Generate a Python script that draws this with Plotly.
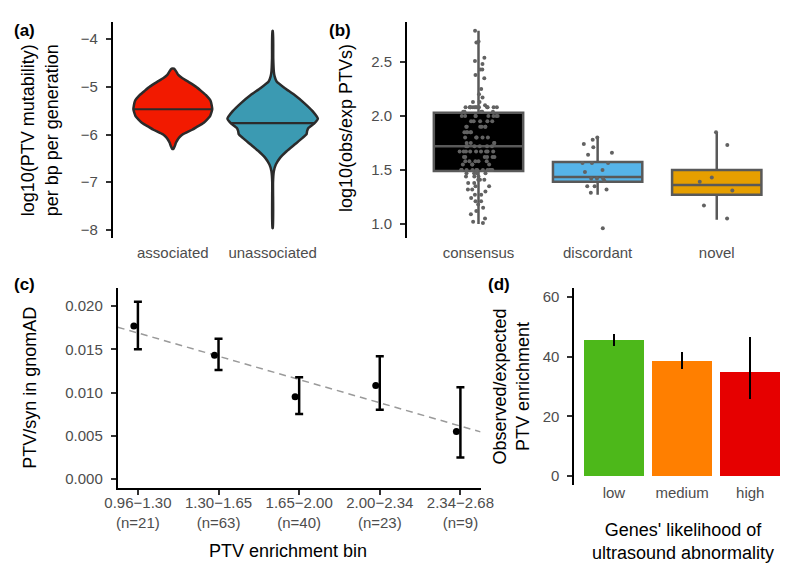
import numpy as np
import plotly.graph_objects as go

# ---------------- data ----------------
# (a) violin outlines: levels and half-widths (in category units)
violin_groups = ["associated", "unassociated"]
assoc_levels = [-6.30, -6.24, -6.18, -6.12, -6.06, -6.00, -5.90, -5.83, -5.76, -5.62,
                -5.47, -5.30, -5.17, -5.08, -4.99, -4.90, -4.82, -4.75, -4.68, -4.62]
assoc_halfwidth = [0.006, 0.02, 0.03, 0.045, 0.065, 0.097, 0.194, 0.25, 0.307, 0.372,
                   0.395, 0.38, 0.33, 0.28, 0.227, 0.16, 0.097, 0.055, 0.035, 0.012]
assoc_median = -5.47
unassoc_levels = [-7.96, -7.00, -6.77, -6.63, -6.49, -6.35, -6.21, -6.07, -5.99, -5.93,
                  -5.86, -5.76, -5.67, -5.51, -5.34, -5.17, -5.03, -4.89, -4.78, -4.68,
                  -4.40, -3.83]
unassoc_halfwidth = [0.003, 0.004, 0.012, 0.032, 0.074, 0.14, 0.22, 0.30, 0.34, 0.345,
                     0.36, 0.42, 0.453, 0.40, 0.317, 0.22, 0.123, 0.04, 0.02, 0.012,
                     0.006, 0.003]
unassoc_median = -5.76

# (b) boxes
box_groups = ["consensus", "discordant", "novel"]
box_q1 = [1.49, 1.39, 1.27]
box_median = [1.72, 1.435, 1.36]
box_q3 = [2.03, 1.574, 1.50]
box_lower = [1.00, 1.27, 1.04]
box_upper = [2.79, 1.80, 1.85]
consensus_pts = (
    [2.79, 2.69, 2.68, 2.54, 2.51, 2.48, 2.43, 2.43, 2.38, 2.35, 2.25, 2.20, 2.17, 2.13, 2.13, 2.10]
    + [2.08] * 13 + [2.04] * 5
    + [2.00] * 8 + [1.95] * 5 + [1.90] * 6 + [1.85] * 5 + [1.80] * 5 + [1.75] * 4
    + [1.72] * 6 + [1.67] * 9 + [1.62] * 6 + [1.58] * 5 + [1.55] * 4 + [1.50] * 13
    + [1.47] * 4
    + [1.44] * 3 + [1.41] * 3 + [1.38] * 2 + [1.35] * 2 + [1.32] * 2 + [1.30, 1.27, 1.27,
       1.24, 1.21, 1.21, 1.18, 1.15, 1.12, 1.09, 1.05, 1.02, 1.01]
)
discordant_pts = [1.80, 1.78, 1.74, 1.71, 1.66, 1.64, 1.565, 1.565, 1.565, 1.50, 1.48,
                  1.42, 1.42, 1.42, 1.40, 1.35, 1.35, 1.32, 1.29, 0.96]
novel_pts = [1.85, 1.73, 1.43, 1.39, 1.31, 1.17, 1.05]

# (c) PTV/syn by enrichment bin
bin_labels = ["0.96\u22121.30<br>(n=21)", "1.30\u22121.65<br>(n=63)", "1.65\u22122.00<br>(n=40)",
              "2.00\u22122.34<br>(n=23)", "2.34\u22122.68<br>(n=9)"]
ratio = [0.0177, 0.0143, 0.0095, 0.0108, 0.0055]
ratio_low = [0.0150, 0.0126, 0.0075, 0.0080, 0.0025]
ratio_high = [0.0205, 0.0162, 0.01175, 0.0142, 0.0106]
fit_intercept = 0.01688
fit_slope = -0.00269

# (d) enrichment by ultrasound likelihood
us_groups = ["low", "medium", "high"]
enrich = [45.5, 38.4, 34.9]
enrich_low = [43.6, 35.8, 25.9]
enrich_high = [47.6, 41.4, 46.5]

# ---------------- styles ----------------
W, H = 800, 566
FONT = "Liberation Sans, Arial, sans-serif"
TICKFONT = dict(family=FONT, size=15, color="#4D4D4D")
TITLEFONT = dict(family=FONT, size=18, color="black")
violin_colors = ["#F21A00", "#3B9AB2"]
box_fills = ["#000000", "#56B4E9", "#E69F00"]
bar_colors = ["#4DB81A", "#FF7F00", "#E60000"]
OUTLINE = "#2B2B2B"


def px_x(p):
    return p / W


def px_y(p):
    return 1 - p / H


fig = go.Figure()

# ---- (a) violins ----
for i, (lv, hw, med) in enumerate([(assoc_levels, assoc_halfwidth, assoc_median),
                                    (unassoc_levels, unassoc_halfwidth, unassoc_median)]):
    lv = np.array(lv)
    hw = np.array(hw)
    xs = np.concatenate([i + hw, (i - hw)[::-1], [i + hw[0]]])
    ys = np.concatenate([lv, lv[::-1], [lv[0]]])
    fig.add_trace(go.Scatter(x=xs, y=ys, mode="lines", fill="toself",
                             fillcolor=violin_colors[i],
                             line=dict(color=OUTLINE, width=2.5, shape="spline", smoothing=0.4),
                             xaxis="x", yaxis="y", showlegend=False, hoverinfo="skip"))
    mw = float(np.interp(med, lv, hw))
    fig.add_trace(go.Scatter(x=[i - mw, i + mw], y=[med, med], mode="lines",
                             line=dict(color=OUTLINE, width=2.2),
                             xaxis="x", yaxis="y", showlegend=False, hoverinfo="skip"))

# ---- (b) boxes ----
for i in range(3):
    fig.add_trace(go.Box(x=[i], q1=[box_q1[i]], median=[box_median[i]], q3=[box_q3[i]],
                         lowerfence=[box_lower[i]], upperfence=[box_upper[i]],
                         width=0.75, whiskerwidth=0, fillcolor=box_fills[i],
                         line=dict(color="#595959", width=2.5), boxpoints=False,
                         xaxis="x2", yaxis="y2", showlegend=False, hoverinfo="skip"))
for i, pts in enumerate([consensus_pts, discordant_pts, novel_pts]):
    fig.add_trace(go.Box(y=pts, x=[i] * len(pts), width=0.75, boxpoints="all", jitter=0.45,
                         pointpos=0, fillcolor="rgba(0,0,0,0)",
                         line=dict(color="rgba(0,0,0,0)", width=0),
                         marker=dict(color="#626262", size=4),
                         xaxis="x2", yaxis="y2", showlegend=False, hoverinfo="skip"))

# ---- (c) ----
xr = [-0.25, 4.25]
fig.add_trace(go.Scatter(x=xr, y=[fit_intercept + fit_slope * v for v in xr], mode="lines",
                         line=dict(color="#9A9A9A", width=1.5, dash="7px,5px"),
                         xaxis="x3", yaxis="y3", showlegend=False, hoverinfo="skip"))
idx = list(range(len(ratio)))
fig.add_trace(go.Scatter(x=idx, y=ratio, mode="markers", marker=dict(size=1, opacity=0),
                         error_y=dict(type="data", symmetric=False,
                                      array=[h - r for h, r in zip(ratio_high, ratio)],
                                      arrayminus=[r - l for r, l in zip(ratio, ratio_low)],
                                      color="black", thickness=2.5, width=4),
                         xaxis="x3", yaxis="y3", showlegend=False, hoverinfo="skip"))
fig.add_trace(go.Scatter(x=[v - 0.05 for v in idx], y=ratio, mode="markers",
                         marker=dict(color="black", size=7),
                         xaxis="x3", yaxis="y3", showlegend=False, hoverinfo="skip"))

# ---- (d) ----
fig.add_trace(go.Bar(x=[0, 1, 2], y=enrich, width=0.88, marker=dict(color=bar_colors, line=dict(width=0)),
                     error_y=dict(type="data", symmetric=False,
                                  array=[h - e for h, e in zip(enrich_high, enrich)],
                                  arrayminus=[e - l for e, l in zip(enrich, enrich_low)],
                                  color="black", thickness=2.5, width=0),
                     xaxis="x4", yaxis="y4", showlegend=False, hoverinfo="skip"))

yaxis_common = dict(showgrid=False, zeroline=False, showline=True, linecolor="black", linewidth=2,
                    ticks="outside", ticklen=5, tickwidth=1.5, tickcolor="#333333",
                    tickfont=TICKFONT, ticklabelstandoff=5)
xaxis_cat = dict(showgrid=False, zeroline=False, showline=False, ticks="", tickfont=TICKFONT)

fig.update_layout(
    width=W, height=H, margin=dict(l=0, r=0, t=0, b=0),
    paper_bgcolor="white", plot_bgcolor="white", boxmode="overlay", bargap=0,
    showlegend=False,
    xaxis=dict(domain=[px_x(95), px_x(322)], range=[-0.6, 1.6], anchor="y",
               tickvals=[0, 1], ticktext=violin_groups, ticklabelstandoff=4, **xaxis_cat),
    yaxis=dict(domain=[px_y(230), px_y(14)], range=[-8.17, -3.64], anchor="x",
               tickvals=[-8, -7, -6, -5, -4], **yaxis_common),
    xaxis2=dict(domain=[px_x(399), px_x(793)], range=[-0.6, 2.6], anchor="y2",
                tickvals=[0, 1, 2], ticktext=box_groups, ticklabelstandoff=4, **xaxis_cat),
    yaxis2=dict(domain=[px_y(230), px_y(14)], range=[0.87, 2.87], anchor="x2",
                tickvals=[1.0, 1.5, 2.0, 2.5], tickformat=".1f", **yaxis_common),
    xaxis3=dict(domain=[px_x(100), px_x(475)], range=xr, anchor="y3",
                tickvals=idx, ticktext=bin_labels, showgrid=False, zeroline=False,
                showline=True, linecolor="black", linewidth=2, ticks="outside", ticklen=5,
                tickwidth=1.5, tickcolor="#333333", tickfont=TICKFONT, ticklabelstandoff=-5),
    yaxis3=dict(domain=[px_y(480), px_y(280)], range=[-0.00104, 0.02208], anchor="x3",
                tickvals=[0, 0.005, 0.01, 0.015, 0.02], tickformat=".3f", **yaxis_common),
    xaxis4=dict(domain=[px_x(572), px_x(796)], range=[-0.58, 2.6], anchor="y4",
                tickvals=[0, 1, 2], ticktext=us_groups, ticklabelstandoff=-3, **xaxis_cat),
    yaxis4=dict(domain=[px_y(477), px_y(280)], range=[-3, 63], anchor="x4",
                tickvals=[0, 20, 40, 60], **yaxis_common),
)


def ann(text, x, y, angle=0, font=TITLEFONT, **kw):
    fig.add_annotation(text=text, x=px_x(x), y=px_y(y), xref="paper", yref="paper",
                       showarrow=False, textangle=angle, font=font,
                       xanchor="center", yanchor="middle", **kw)


LABELFONT = dict(family=FONT, size=17, color="black")
ann("<b>(a)</b>", 4, 22, font=LABELFONT)
ann("<b>(b)</b>", 330, 22, font=LABELFONT)
ann("<b>(c)</b>", 4, 276, font=LABELFONT)
ann("<b>(d)</b>", 494, 276, font=LABELFONT)

ann("log10(PTV mutability)<br>per bp per generation", 20, 122, angle=-90)
ann("log10(obs/exp PTVs)", 336, 120, angle=-90)
ann("PTV/syn in gnomAD", 9, 380, angle=-90)
ann("PTV enrichment bin", 276, 543)
ann("Observed/expected<br>PTV enrichment", 506, 379, angle=-90)
ann("Genes' likelihood of<br>ultrasound abnormality", 684, 533)

fig.write_html("out.html")
